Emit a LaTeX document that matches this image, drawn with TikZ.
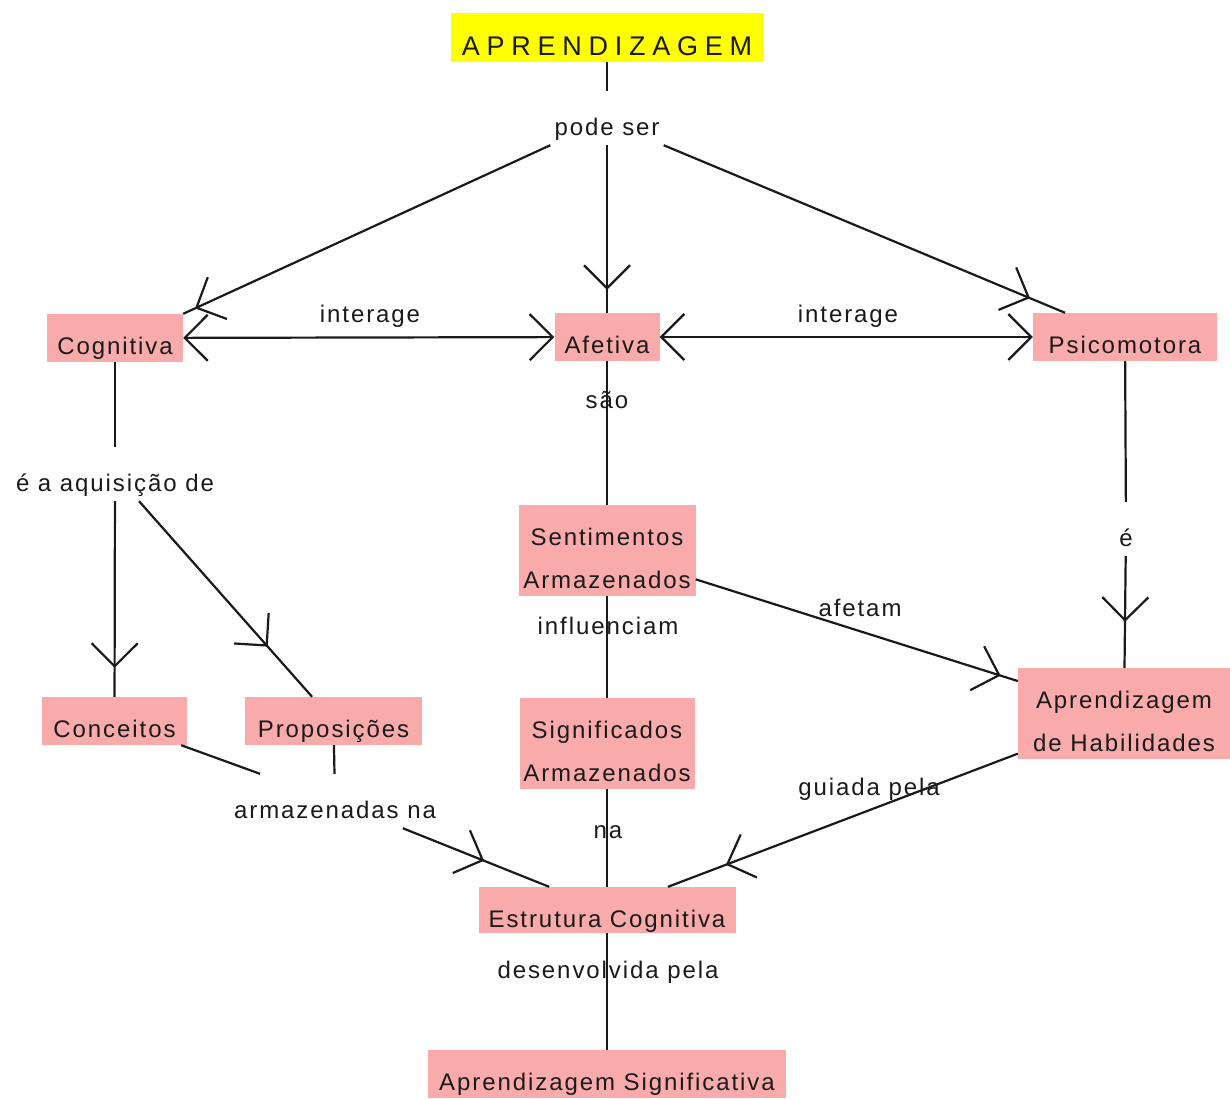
\documentclass[tikz,border=0pt]{standalone}
\usepackage{fontspec}
\setmainfont{Liberation Sans}[LetterSpace=8]
\usetikzlibrary{arrows.meta,decorations.markings}
\definecolor{conceptfill}{HTML}{F9AAAA}
\definecolor{titlefill}{HTML}{FFFF00}
\definecolor{ink}{HTML}{1A1A1A}
% two centred lines whose first baseline is the box baseline
\newcommand\twolines[2]{\vtop{\halign{\hfil##\hfil\cr#1\cr#2\cr}}}
\tikzset{
  barb/.tip={Straight Barb[length=23pt,width=46pt]},
  link line/.style={draw=ink, line width=2.2pt},
  tip before/.style={postaction={decorate},
    decoration={markings, mark=at position -#1 with {\arrow{barb}}}},
  concept/.style={fill=conceptfill, inner xsep=0pt, inner ysep=0pt,
    text height=40pt, text depth=8pt, anchor=base, text=ink},
  concept2/.style={concept, text depth=51pt},
  phrase/.style={inner xsep=4pt, inner ysep=0pt, text height=44pt,
    text depth=10pt, anchor=base, text=ink},
  edgetext/.style={inner sep=0pt, anchor=base, text=ink},
}
\begin{document}
\begin{tikzpicture}[x=1pt, y=-1pt, font=\fontsize{24}{43}\selectfont]
\fill[white] (0,0) rectangle (1230,1098);
\useasboundingbox (0,0) rectangle (1230,1098);

% concepts and linking phrases
\node[fill=titlefill, inner sep=0pt, minimum width=313pt, text height=42pt,
  text depth=7pt, anchor=base, text=ink,
  font=\fontsize{27}{30}\selectfont\addfontfeature{LetterSpace=25}]
  (apr) at (607,55) {APRENDIZAGEM};
\node[phrase] (pode) at (607,135) {pode ser};
\node[concept, minimum width=136pt] (cog) at (115,354) {Cognitiva};
\node[concept, minimum width=105pt] (afe) at (607,353) {Afetiva};
\node[concept, minimum width=184pt] (psi) at (1125,353) {Psicomotora};
\node[edgetext] (int1) at (370,322) {interage};
\node[edgetext] (int2) at (848,322) {interage};
\node[phrase] (aquis) at (115,491) {é a aquisição de};
\node[concept2, minimum width=177pt] (sent) at (607,545) {\twolines{Sentimentos}{Armazenados}};
\node[phrase] (ehab) at (1126,546) {é};
\node[concept, minimum width=145pt] (conc) at (114.5,737) {Conceitos};
\node[concept, minimum width=177pt] (prop) at (333.5,737) {Proposições};
\node[concept2, minimum width=175pt] (sig) at (607,738) {\twolines{Significados}{Armazenados}};
\node[concept2, minimum width=212pt] (habil) at (1124,708) {\twolines{Aprendizagem}{de Habilidades}};
\node[phrase] (armaz) at (335,818) {armazenadas na};
\node[concept, minimum width=257pt, text depth=6pt] (estr) at (607,927) {Estrutura Cognitiva};
\node[concept, minimum width=358pt] (asig) at (607,1090) {Aprendizagem Significativa};

% labels sitting on their lines
\node[edgetext] (sao) at (607,408) {são};
\node[edgetext] (infl) at (608,634) {influenciam};
\node[edgetext] (afet) at (860,616) {afetam};
\node[edgetext] (na) at (608,838) {na};
\node[edgetext] (guia) at (869,795) {guiada pela};
\node[edgetext] (desen) at (608,978) {desenvolvida pela};

% connectors
\draw[link line] (apr) -- (pode);
\draw[link line, tip before=13pt] (pode.south west) -- (cog.north east);
\draw[link line, tip before=23pt] (pode) -- (afe);
\draw[link line, tip before=38pt] (pode.south east) -- (psi.158);
\draw[link line, {barb}-{barb}] (cog) -- (afe);
\draw[link line, {barb}-{barb}] (afe) -- (psi);
\draw[link line] (cog) -- (aquis);
\draw[link line, tip before=29pt] (aquis) -- (conc);
\draw[link line, tip before=67pt] (aquis) -- (prop);
\draw[link line] (afe) -- (sent);
\draw[link line] (psi) -- (ehab);
\draw[link line, tip before=46pt] (ehab) -- (habil);
\draw[link line, tip before=18pt] (sent.-18) -- (habil.163);
\draw[link line] (sent) -- (sig);
\draw[link line] (conc) -- (armaz);
\draw[link line] (prop) -- (armaz);
\draw[link line, tip before=70pt] (armaz) -- (estr);
\draw[link line] (sig) -- (estr);
\draw[link line, tip before=62pt] (habil) -- (estr);
\draw[link line] (estr) -- (asig);
\end{tikzpicture}
\end{document}
